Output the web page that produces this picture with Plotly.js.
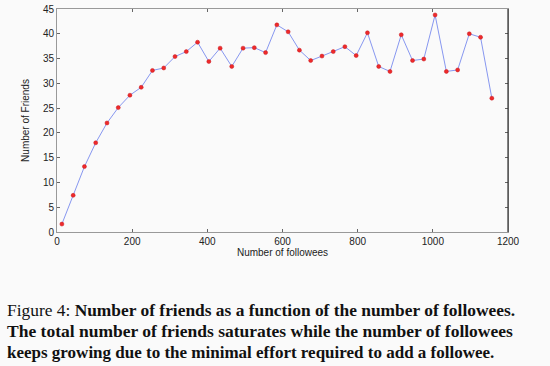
<!DOCTYPE html>
<html>
<head>
<meta charset="utf-8">
<script src="https://cdn.plot.ly/plotly-3.0.1.min.js"></script>
<style>
html,body{margin:0;padding:0;background:#fafafa;}
#chart{width:550px;height:366px;}
</style>
</head>
<body>
<div id="chart"></div>
<script>
// Number of followees (x) and number of friends (y)
var followees = [13, 43, 73, 103, 133, 163, 194, 224, 254, 284, 314, 344, 374, 404, 434, 465, 495, 525, 555, 585,
                 615, 645, 675, 705, 735, 766, 796, 826, 856, 886, 916, 946, 976, 1006, 1036, 1066, 1097, 1127, 1157];
var friends = [1.6, 7.4, 13.2, 18.0, 22.0, 25.1, 27.6, 29.2, 32.6, 33.1, 35.4, 36.4, 38.3, 34.4, 37.1, 33.4, 37.1, 37.2, 36.2, 41.8,
               40.4, 36.7, 34.6, 35.5, 36.4, 37.4, 35.6, 40.2, 33.4, 32.4, 39.8, 34.6, 34.9, 43.8, 32.4, 32.7, 40.0, 39.3, 27.0];
var xTicks = [0, 200, 400, 600, 800, 1000, 1200];
var yTicks = [0, 5, 10, 15, 20, 25, 30, 35, 40, 45];
var xTitle = 'Number of followees';
var yTitle = 'Number of Friends';
var captionLines = [
  'Figure 4: <b>Number of friends as a function of the number of followees.</b>',
  '<b>The total number of friends saturates while the number of followees</b>',
  '<b>keeps growing due to the minimal effort required to add a followee.</b>'
];

var trace = {
  x: followees, y: friends, type: 'scatter', mode: 'lines+markers',
  line: {color: '#8797f0', width: 1},
  marker: {color: '#ee2a2a', size: 4, line: {color: '#c81820', width: 0.5}},
  hoverinfo: 'none'
};

var capY = [-0.352, -0.446, -0.540];
var capSize = [17.4, 17.5, 17];
var annotations = captionLines.map(function(t, i){
  return {text: t, xref: 'paper', yref: 'paper', x: -0.115, y: capY[i], xanchor: 'left', yanchor: 'middle',
          showarrow: false, font: {family: 'Liberation Serif, serif', size: capSize[i], color: '#111'}};
});

var layout = {
  width: 550, height: 366,
  margin: {l: 57, r: 42, t: 9, b: 134},
  paper_bgcolor: '#fafafa', plot_bgcolor: '#fafafa',
  showlegend: false,
  xaxis: {
    range: [0, 1200], tickvals: xTicks, ticktext: xTicks.map(String),
    ticks: 'inside', ticklen: 3, tickcolor: '#666', mirror: 'ticks',
    showline: true, linecolor: '#999', linewidth: 1, showgrid: false, zeroline: false,
    tickfont: {family: 'Liberation Sans, Arial, sans-serif', size: 10, color: '#222'},
    title: {text: xTitle, standoff: 2, font: {family: 'Liberation Sans, Arial, sans-serif', size: 10, color: '#222'}}
  },
  yaxis: {
    range: [0, 45], tickvals: yTicks, ticktext: yTicks.map(String),
    ticks: 'inside', ticklen: 3, tickcolor: '#666', mirror: 'ticks',
    showline: true, linecolor: '#999', linewidth: 1, showgrid: false, zeroline: false,
    tickfont: {family: 'Liberation Sans, Arial, sans-serif', size: 10, color: '#222'},
    title: {text: yTitle, standoff: 11, font: {family: 'Liberation Sans Narrow, Liberation Sans, Arial, sans-serif', size: 10, color: '#222'}}
  },
  shapes: [
    {type: 'line', xref: 'paper', yref: 'paper', x0: 1, x1: 1, y0: 0, y1: 1, line: {color: '#333', width: 1.2}}
  ],
  annotations: annotations
};

Plotly.newPlot('chart', [trace], layout, {displayModeBar: false, staticPlot: true});
</script>
</body>
</html>
